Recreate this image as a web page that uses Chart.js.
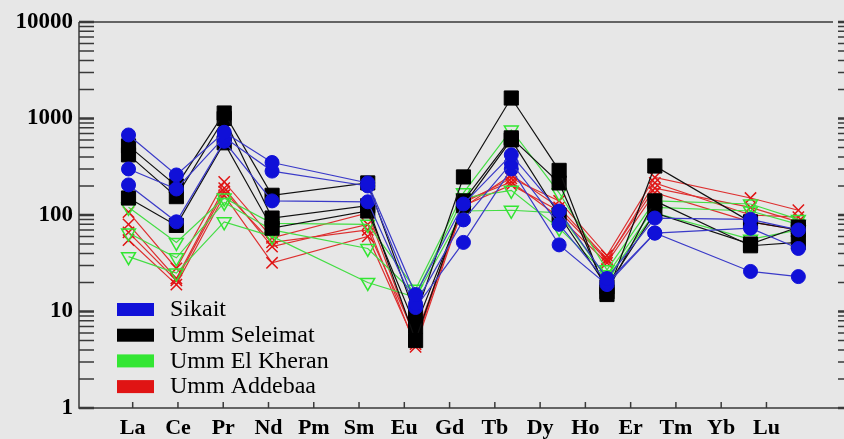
<!DOCTYPE html>
<html>
<head>
<meta charset="utf-8">
<script src="https://cdn.jsdelivr.net/npm/chart.js@4.4.1/dist/chart.umd.min.js"></script>
<style>
  html, body { margin: 0; padding: 0; background: #e7e7e7; }
  #wrap { width: 844px; height: 439px; }
</style>
</head>
<body>
<div id="wrap"><canvas id="ree" width="844" height="439"></canvas></div>
<script>
// chondrite normalised REE patterns
const elements = ['La', 'Ce', 'Pr', 'Nd', 'Pm', 'Sm', 'Eu', 'Gd', 'Tb', 'Dy', 'Ho', 'Er', 'Tm', 'Yb', 'Lu'];
const yTicks = [1, 10, 100, 1000, 10000];

const groupNames = ['Sikait', 'Umm Seleimat', 'Umm El Kheran', 'Umm Addebaa'];
const groupColors = ['#1010d8', '#000000', '#33e633', '#e01414'];
const lineColors = ['#3a3ac8', '#111111', '#44dd44', '#dd3030'];

// La  Ce  Pr  Nd  Pm  Sm  Eu  Gd  Tb  Dy  Ho  Er  Tm  Yb  Lu
const sikait = [
  [675, 260, 720, 350, null, 215, 15, 130, 420, 110, 22, 93, null, 90, 70],
  [300, 186, 640, 285, null, 200, 12, 89, 345, 80, 20, 65, null, 73, 45],
  [205, 85, 580, 140, null, 137, 11, 52, 300, 49, 19, 65, null, 26, 23]
];
const seleimat = [
  [520, 200, 1140, 160, null, 215, 9, 248, 1630, 290, 15, 322, null, 85, 70],
  [420, 155, 1000, 93, null, 125, 5, 140, 630, 215, 16, 140, null, 48, 52],
  [150, 78, 560, 73, null, 110, 7, 125, 600, 100, 18, 105, null, 50, 75]
];
const kheran = [
  [120, 52, 150, 82, null, 80, 17, 170, 760, 170, 27, 140, null, 130, 90],
  [65, 36, 135, 70, null, 45, 15, 150, 180, 73, 24, 120, null, 110, 80],
  [37, 25, 85, 60, null, 20, 14, 110, 112, 105, 22, 105, null, 56, 70]
];
const addebaa = [
  [107, 28, 220, 58, null, 105, 5.0, 133, 240, 140, 38, 245, null, 150, 112],
  [80, 22, 190, 47, null, 80, 4.3, 125, 205, 110, 34, 215, null, 100, 95],
  [55, 19, 160, 32, null, 60, 4.6, 140, 220, 95, 32, 170, null, 85, 70],
  [66, 21, 175, 52, null, 70, 5.5, 120, 260, 120, 35, 190, null, 120, 85]
];

const groups = [sikait, seleimat, kheran, addebaa];
const markers = [
  { pointStyle: 'circle', pointRadius: 7, filled: true, rotation: 0 },
  { pointStyle: 'rect', pointRadius: 10, filled: true, rotation: 0 },
  { pointStyle: 'triangle', pointRadius: 8, filled: false, rotation: 180 },
  { pointStyle: 'crossRot', pointRadius: 8, filled: false, rotation: 0 }
];

const serif = "'Liberation Serif', 'DejaVu Serif', serif";

const datasets = [];
groups.forEach((samples, g) => {
  const m = markers[g];
  samples.forEach((vals, k) => {
    datasets.push({
      label: groupNames[g] + ' ' + (k + 1),
      data: vals.map((v, i) => ({ x: i, y: v })).filter(p => p.y !== null),
      xAxisID: 'x',
      yAxisID: 'y',
      borderColor: lineColors[g],
      borderWidth: 1.2,
      pointStyle: m.pointStyle,
      pointRadius: m.pointRadius,
      pointRotation: m.rotation,
      pointBackgroundColor: m.filled ? groupColors[g] : 'rgba(0,0,0,0)',
      pointBorderColor: groupColors[g],
      pointBorderWidth: m.filled ? 1 : 1.5,
      tension: 0
    });
  });
});

const background = {
  id: 'background',
  beforeDraw(chart) {
    const ctx = chart.ctx;
    ctx.save();
    ctx.fillStyle = '#e7e7e7';
    ctx.fillRect(0, 0, chart.width, chart.height);
    ctx.restore();
  }
};

// axis frame with inward log ticks, as in the original plot
const frame = {
  id: 'frame',
  beforeDatasetsDraw(chart) {
    const { ctx, chartArea: a } = chart;
    const y = chart.scales.y, xl = chart.scales.xl;
    ctx.save();
    ctx.strokeStyle = '#3a3a3a';
    ctx.lineWidth = 1.5;
    ctx.beginPath();
    ctx.moveTo(a.left, a.top); ctx.lineTo(a.right, a.top);
    ctx.moveTo(a.left, a.top); ctx.lineTo(a.left, a.bottom); ctx.lineTo(chart.width, a.bottom);
    ctx.stroke();

    for (let d = 1; d <= 10000; d *= 10) {
      for (let m = 1; m <= 9; m++) {
        const v = d * m;
        if (v > 10000) break;
        const py = y.getPixelForValue(v);
        ctx.lineWidth = m === 1 ? 2.5 : 1.5;
        ctx.beginPath();
        ctx.moveTo(a.left, py); ctx.lineTo(a.left + 15, py);
        ctx.moveTo(chart.width - 6, py); ctx.lineTo(chart.width, py);
        ctx.stroke();
      }
    }
    ctx.lineWidth = 1.5;
    elements.forEach((e, i) => {
      const px = xl.getPixelForValue(i);
      ctx.beginPath();
      ctx.moveTo(px, a.bottom); ctx.lineTo(px, a.bottom - 6);
      ctx.stroke();
    });
    ctx.restore();
  }
};

const groupLegend = {
  id: 'groupLegend',
  afterDraw(chart) {
    const ctx = chart.ctx;
    ctx.save();
    ctx.font = '24px ' + serif;
    ctx.textBaseline = 'middle';
    groupNames.forEach((name, g) => {
      const top = 303 + g * 25.7;
      ctx.fillStyle = groupColors[g];
      ctx.fillRect(117, top, 37, 13);
      ctx.fillStyle = '#000';
      ctx.fillText(name, 170, top + 7);
    });
    ctx.restore();
  }
};

new Chart(document.getElementById('ree'), {
  type: 'line',
  data: { datasets: datasets },
  options: {
    responsive: false,
    animation: false,
    layout: { padding: { top: 22, right: 4, left: 0, bottom: 0 } },
    plugins: { legend: { display: false }, tooltip: { enabled: false } },
    scales: {
      x: { type: 'linear', min: -1.035, max: 14.724, display: false },
      xl: {
        type: 'linear', position: 'bottom', min: -1.186, max: 15.47,
        afterBuildTicks: s => { s.ticks = elements.map((e, i) => ({ value: i })); },
        afterFit: s => { s.height = 31; },
        ticks: {
          autoSkip: false, maxRotation: 0, padding: 7, color: '#000',
          font: { family: serif, size: 22, weight: 'bold' },
          callback: v => elements[v]
        },
        grid: { display: false, drawTicks: false },
        border: { display: false }
      },
      y: {
        type: 'logarithmic', position: 'left', min: 1, max: 10000,
        afterBuildTicks: s => { s.ticks = yTicks.map(v => ({ value: v })); },
        afterFit: s => { s.width = 79; },
        ticks: {
          padding: 6, color: '#000',
          font: { family: serif, size: 23, weight: 'bold' },
          callback: v => String(v)
        },
        grid: { display: false, drawTicks: false },
        border: { display: false }
      }
    }
  },
  plugins: [background, frame, groupLegend]
});
</script>
</body>
</html>
